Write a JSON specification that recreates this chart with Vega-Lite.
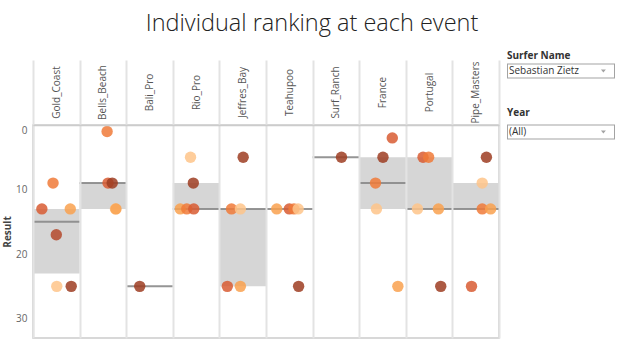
{
  "$schema": "https://vega.github.io/schema/vega-lite/v6.json",
  "width": 466,
  "height": 213,
  "autosize": {"type": "none"},
  "padding": {"left": 33, "top": 125, "right": 125, "bottom": 6},
  "title": {"text": "Individual ranking at each event", "fontSize": 23.5, "font": "Open Sans", "fontWeight": 300, "color": "#222222", "anchor": "middle", "frame": "group", "dx": 46, "offset": 16},
  "config": {
    "font": "Open Sans",
    "view": {"stroke": "#cccccc", "strokeWidth": 1.5},
    "axis": {"labelFont": "Open Sans", "titleFont": "Open Sans"},
    "legend": {"labelFont": "Open Sans", "titleFont": "Open Sans"}
  },
  "data": {
    "values": [
      {"event": "Gold_Coast", "year": "2016", "result": 9, "jitter": 0.43},
      {"event": "Gold_Coast", "year": "2017", "result": 13, "jitter": 0.19},
      {"event": "Gold_Coast", "year": "2015", "result": 13, "jitter": 0.80},
      {"event": "Gold_Coast", "year": "2018", "result": 17, "jitter": 0.50},
      {"event": "Gold_Coast", "year": "2014", "result": 25, "jitter": 0.51},
      {"event": "Gold_Coast", "year": "2019", "result": 25, "jitter": 0.82},
      {"event": "Bells_Beach", "year": "2016", "result": 1, "jitter": 0.59},
      {"event": "Bells_Beach", "year": "2017", "result": 9, "jitter": 0.61},
      {"event": "Bells_Beach", "year": "2019", "result": 9, "jitter": 0.70},
      {"event": "Bells_Beach", "year": "2014", "result": 13, "jitter": 0.77},
      {"event": "Bells_Beach", "year": "2015", "result": 13, "jitter": 0.78},
      {"event": "Bali_Pro", "year": "2019", "result": 25, "jitter": 0.29},
      {"event": "Rio_Pro", "year": "2014", "result": 5, "jitter": 0.38},
      {"event": "Rio_Pro", "year": "2019", "result": 9, "jitter": 0.44},
      {"event": "Rio_Pro", "year": "2015", "result": 13, "jitter": 0.16},
      {"event": "Rio_Pro", "year": "2016", "result": 13, "jitter": 0.30},
      {"event": "Rio_Pro", "year": "2017", "result": 13, "jitter": 0.45},
      {"event": "Jeffres_Bay", "year": "2019", "result": 5, "jitter": 0.51},
      {"event": "Jeffres_Bay", "year": "2016", "result": 13, "jitter": 0.26},
      {"event": "Jeffres_Bay", "year": "2014", "result": 13, "jitter": 0.45},
      {"event": "Jeffres_Bay", "year": "2017", "result": 25, "jitter": 0.17},
      {"event": "Jeffres_Bay", "year": "2015", "result": 25, "jitter": 0.45},
      {"event": "Teahupoo", "year": "2015", "result": 13, "jitter": 0.23},
      {"event": "Teahupoo", "year": "2017", "result": 13, "jitter": 0.50},
      {"event": "Teahupoo", "year": "2016", "result": 13, "jitter": 0.60},
      {"event": "Teahupoo", "year": "2014", "result": 13, "jitter": 0.69},
      {"event": "Teahupoo", "year": "2019", "result": 25, "jitter": 0.70},
      {"event": "Surf_Ranch", "year": "2019", "result": 5, "jitter": 0.62},
      {"event": "France", "year": "2017", "result": 2, "jitter": 0.71},
      {"event": "France", "year": "2019", "result": 5, "jitter": 0.51},
      {"event": "France", "year": "2016", "result": 9, "jitter": 0.35},
      {"event": "France", "year": "2014", "result": 13, "jitter": 0.37},
      {"event": "France", "year": "2015", "result": 25, "jitter": 0.83},
      {"event": "Portugal", "year": "2017", "result": 5, "jitter": 0.37},
      {"event": "Portugal", "year": "2016", "result": 5, "jitter": 0.49},
      {"event": "Portugal", "year": "2014", "result": 13, "jitter": 0.25},
      {"event": "Portugal", "year": "2015", "result": 13, "jitter": 0.70},
      {"event": "Portugal", "year": "2019", "result": 25, "jitter": 0.75},
      {"event": "Pipe_Masters", "year": "2019", "result": 5, "jitter": 0.73},
      {"event": "Pipe_Masters", "year": "2014", "result": 9, "jitter": 0.64},
      {"event": "Pipe_Masters", "year": "2016", "result": 13, "jitter": 0.64},
      {"event": "Pipe_Masters", "year": "2015", "result": 13, "jitter": 0.82},
      {"event": "Pipe_Masters", "year": "2017", "result": 25, "jitter": 0.41}
    ]
  },
  "resolve": {"scale": {"shape": "independent", "x": "independent"}, "legend": {"shape": "independent"}},
  "layer": [
    {
      "transform": [{"aggregate": [{"op": "q1", "field": "result", "as": "q1"}, {"op": "q3", "field": "result", "as": "q3"}, {"op": "median", "field": "result", "as": "med"}], "groupby": ["event"]}],
      "layer": [
        {
          "mark": {"type": "rect", "color": "#d6d6d6"},
          "encoding": {
            "y": {"field": "q1", "type": "quantitative"},
            "y2": {"field": "q3"}
          }
        },
        {
          "mark": {"type": "rect", "fill": "transparent", "stroke": "#8a8a8a", "strokeOpacity": 0.9, "strokeWidth": 2},
          "encoding": {
            "y": {"field": "med", "type": "quantitative"},
            "y2": {"field": "med"}
          }
        }
      ],
      "encoding": {
        "x": {
          "field": "event", "type": "nominal", "bandPosition": 0,
          "sort": ["Gold_Coast", "Bells_Beach", "Bali_Pro", "Rio_Pro", "Jeffres_Bay", "Teahupoo", "Surf_Ranch", "France", "Portugal", "Pipe_Masters"],
          "scale": {"paddingInner": 0, "paddingOuter": 0},
          "axis": {
            "orient": "top", "title": null, "labelAngle": -90, "labelAlign": "center", "labelBaseline": "middle",
            "labelPadding": -32, "tickSize": 65, "tickBand": "extent", "tickColor": "#e3e3e3", "tickWidth": 2,
            "grid": true, "gridColor": "#e3e3e3", "gridWidth": 2, "domainColor": "#cccccc", "domainWidth": 1.5,
            "labelFontSize": 10, "labelColor": "#555555"
          }
        },
        "x2": {"field": "event", "bandPosition": 1}
      }
    },
    {
      "mark": {"type": "circle", "size": 130, "opacity": 0.85},
      "encoding": {
        "x": {
          "field": "event", "type": "nominal",
          "sort": ["Gold_Coast", "Bells_Beach", "Bali_Pro", "Rio_Pro", "Jeffres_Bay", "Teahupoo", "Surf_Ranch", "France", "Portugal", "Pipe_Masters"],
          "scale": {"paddingInner": 0, "paddingOuter": 0},
          "axis": null
        },
        "xOffset": {"field": "jitter", "type": "quantitative", "scale": {"domain": [0, 1]}},
        "y": {
          "field": "result", "type": "quantitative",
          "scale": {"domain": [0, 33], "reverse": true, "nice": false, "zero": false},
          "axis": {
            "title": "Result", "ticks": false, "grid": false, "values": [0, 10, 20, 30], "labelFlush": true,
            "labelPadding": 6, "labelFontSize": 10, "labelColor": "#666666",
            "titleFontSize": 10, "titleFontWeight": "bold", "titleColor": "#444444", "titlePadding": 3,
            "domainColor": "#cccccc", "domainWidth": 1.5
          }
        },
        "color": {
          "field": "year", "type": "ordinal",
          "scale": {"domain": ["2014", "2015", "2016", "2017", "2018", "2019"], "range": ["#fec48a", "#f9a14f", "#f07a38", "#d85c32", "#b4492b", "#9e3d22"]},
          "legend": null
        }
      }
    },
    {
      "data": {"values": []},
      "mark": {"type": "point", "filled": true, "size": 11664, "color": "#a3a3a3"},
      "encoding": {
        "shape": {
          "field": "surfer", "type": "nominal",
          "scale": {"domain": ["Sebastian Zietz"], "range": ["M-1,-0.139L1,-0.139L1,0.139L-1,0.139Z M-0.9815,-0.1205L-0.9815,0.1205L0.9815,0.1205L0.9815,-0.1205Z M0.739,-0.028L0.831,-0.028L0.785,0.028Z"]},
          "legend": {
            "title": "Surfer Name", "orient": "none", "legendX": 474, "legendY": -74,
            "symbolSize": 11664, "symbolOffset": 0, "labelOffset": -106,
            "symbolFillColor": "#a3a3a3", "symbolStrokeWidth": 0, "symbolOpacity": 1,
            "labelFontSize": 10, "labelColor": "#333333",
            "titleFontSize": 10, "titleFontWeight": "bold", "titleColor": "#333333", "titlePadding": -44
          }
        }
      }
    },
    {
      "data": {"values": []},
      "mark": {"type": "point", "filled": true, "size": 11664, "color": "#a3a3a3"},
      "encoding": {
        "shape": {
          "field": "yearsel", "type": "nominal",
          "scale": {"domain": ["(All)"], "range": ["M-1,-0.139L1,-0.139L1,0.139L-1,0.139Z M-0.9815,-0.1205L-0.9815,0.1205L0.9815,0.1205L0.9815,-0.1205Z M0.739,-0.028L0.831,-0.028L0.785,0.028Z"]},
          "legend": {
            "title": "Year", "orient": "none", "legendX": 474, "legendY": -17,
            "symbolSize": 11664, "symbolOffset": 0, "labelOffset": -106,
            "symbolFillColor": "#a3a3a3", "symbolStrokeWidth": 0, "symbolOpacity": 1,
            "labelFontSize": 10, "labelColor": "#333333",
            "titleFontSize": 10, "titleFontWeight": "bold", "titleColor": "#333333", "titlePadding": -40
          }
        }
      }
    }
  ]
}
